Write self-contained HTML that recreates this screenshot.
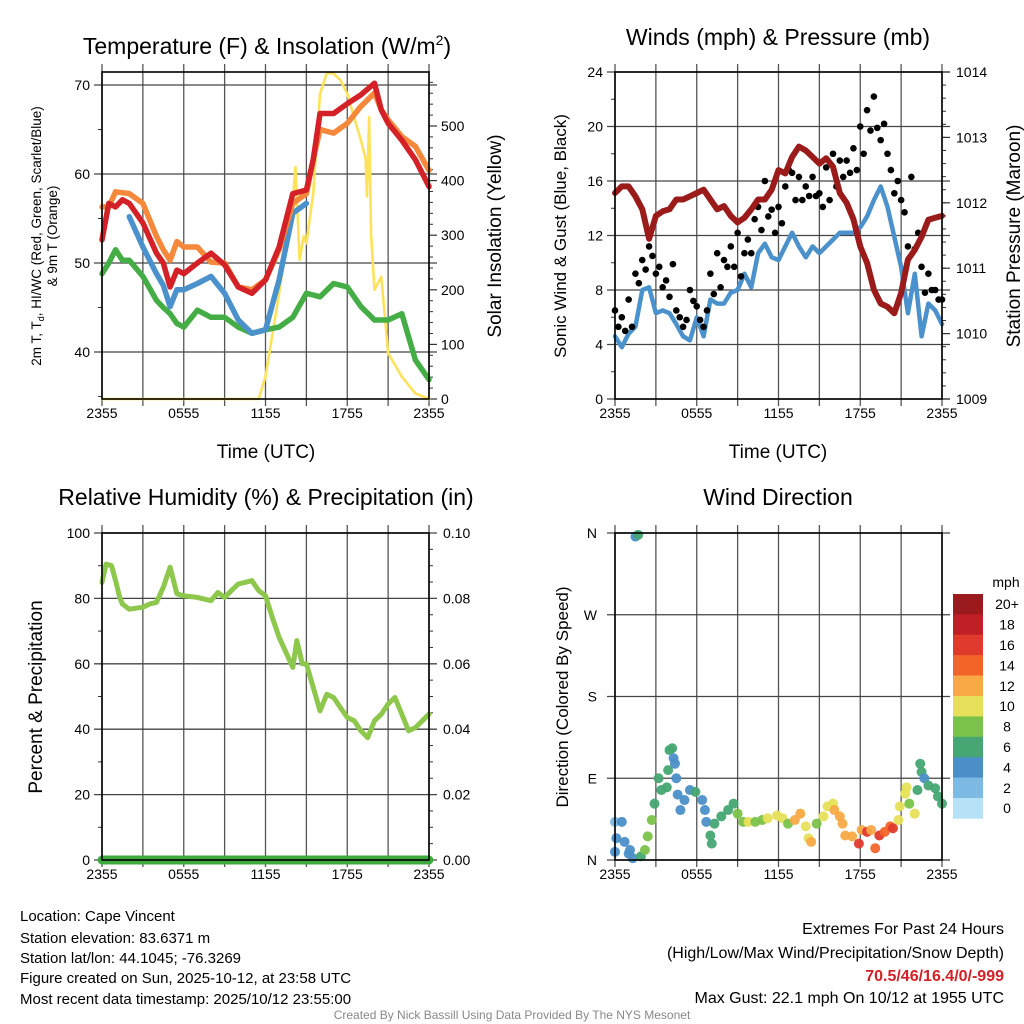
<!DOCTYPE html>
<html><head><meta charset="utf-8">
<style>
body{margin:0;background:#fff;}
svg{display:block;font-family:"Liberation Sans",Arial,sans-serif;}
</style></head>
<body>
<svg id="chart" width="1024" height="1024" viewBox="0 0 1024 1024" xmlns="http://www.w3.org/2000/svg">
<rect width="1024" height="1024" fill="#fff"/>
<g id="p1"></g>
<g id="p2"></g>
<g id="p3"></g>
<g id="p4"></g>
<g id="cb"></g>

<text x="267" y="54" font-size="23" text-anchor="middle">Temperature (F) &amp; Insolation (W/m<tspan dy="-9" font-size="14">2</tspan><tspan dy="9">)</tspan></text>
<text x="778" y="45" font-size="23" text-anchor="middle">Winds (mph) &amp; Pressure (mb)</text>
<text x="266" y="505" font-size="23" text-anchor="middle">Relative Humidity (%) &amp; Precipitation (in)</text>
<text x="778" y="505" font-size="23" text-anchor="middle">Wind Direction</text>

<text x="266" y="458" font-size="19" text-anchor="middle">Time (UTC)</text>
<text x="778" y="458" font-size="19" text-anchor="middle">Time (UTC)</text>

<text transform="translate(41,236) rotate(-90)" font-size="13.5" text-anchor="middle">2m T, T<tspan font-size="9" dy="3">d</tspan><tspan dy="-3">, HI/WC (Red, Green, Scarlet/Blue)</tspan></text>
<text transform="translate(57,236) rotate(-90)" font-size="13.5" text-anchor="middle">&amp; 9m T (Orange)</text>
<text transform="translate(501,236) rotate(-90)" font-size="19" text-anchor="middle">Solar Insolation (Yellow)</text>
<text transform="translate(566,236) rotate(-90)" font-size="17" text-anchor="middle">Sonic Wind &amp; Gust (Blue, Black)</text>
<text transform="translate(1020,236) rotate(-90)" font-size="19" text-anchor="middle">Station Pressure (Maroon)</text>
<text transform="translate(42,697) rotate(-90)" font-size="19" text-anchor="middle">Percent &amp; Precipitation</text>
<text transform="translate(568,697) rotate(-90)" font-size="17" text-anchor="middle">Direction (Colored By Speed)</text>

<g font-size="15">
<text x="20" y="921">Location: Cape Vincent</text>
<text x="20" y="943">Station elevation: 83.6371 m</text>
<text x="20" y="963">Station lat/lon: 44.1045; -76.3269</text>
<text x="20" y="983">Figure created on Sun, 2025-10-12, at 23:58 UTC</text>
<text x="20" y="1004">Most recent data timestamp: 2025/10/12 23:55:00</text>
</g>
<g font-size="16" text-anchor="end">
<text x="1004" y="934">Extremes For Past 24 Hours</text>
<text x="1004" y="958">(High/Low/Max Wind/Precipitation/Snow Depth)</text>
<text x="1004" y="981" fill="#d42027" font-weight="bold">70.5/46/16.4/0/-999</text>
<text x="1004" y="1003">Max Gust: 22.1 mph On 10/12 at 1955 UTC</text>
</g>
<text x="512" y="1019" font-size="12" fill="#888" text-anchor="middle">Created By Nick Bassill Using Data Provided By The NYS Mesonet</text>
</svg>
<script>
// ---- Temperature panel data ----
const tempHours = [0,0.5,1,1.5,2,3,4,4.5,5,5.5,6,7,8,9,10,11,12,13,14,15,15.5,16,17,18,19,20,20.5,21,22,23,24];
const tempRed = [52.6,56.7,56.3,57.1,56.7,54.5,51.1,50,47.3,49.2,48.8,50,51.1,49.8,47.3,46.6,48.1,51.8,57.8,58.2,61.6,66.8,66.8,67.9,68.9,70.2,67.2,65.7,63.8,61.6,58.6];
const temp9m = [56.3,56.3,58,57.9,57.8,56.7,53,51.5,50.3,52.4,51.8,51.8,50.1,50,47.3,47,48.1,51.5,56.7,57.8,61.6,65,64.6,65.7,67.6,69.1,67.2,66.1,64.2,63.1,60.4];
const tempHIWC = [null,null,null,null,55.2,51.8,48.8,47.5,45.1,47,47,47.7,48.5,46.6,43.6,42.1,42.5,48.1,55.6,56.7,null,null,null,null,null,null,null,null,null,null,null];
const tempDew = [48.8,50,51.5,50.3,50.3,48.5,45.8,45,44.3,43.2,42.8,44.7,43.9,43.9,42.8,42.1,42.5,42.8,43.9,46.6,46.4,46.2,47.7,47.3,45.1,43.6,43.6,43.6,44.3,39.1,36.9];
const solarHours = [0,11.5,12,13,14,14.2,14.5,14.8,15,15.5,16,16.5,17,17.5,18,18.5,19,19.35,19.45,19.6,19.75,20,20.5,21,22,23,24];
const solarVals = [0,0,41,193,364,425,255,298,285,376,559,597,596,584,559,516,474,440,371,516,300,200,224,84,41,10,0];
const tempTicks = [40,50,60,70];
const solarTicks = [0,100,200,300,400,500];
const timeLabels = ["2355","0555","1155","1755","2355"];
// ---- Winds panel data ----
const windVals = [4.6,3.8,4.8,5.3,8,8.2,6.3,6.5,6.3,5.5,4.6,4.3,6,4.6,7.3,7,7,7.8,8,9.2,8.2,10.7,11.4,10.4,10.2,11.2,12.2,11.2,10.4,11.2,10.7,11.2,11.7,12.2,12.2,12.2,12.6,13.4,14.6,15.6,14.1,11.9,9.7,6.3,9.2,4.6,7,6.5,5.5];
const gustVals = [6.5,5.3,6,5,7.3,5.3,9.2,8.5,10.2,9.5,11.2,10.5,9.2,9.7,8.2,8.7,7.5,9.9,6.5,6,5.3,5.8,8,7.2,6.8,5.8,5.3,6.5,9.2,7.7,10.7,8.2,10.2,9.7,11.2,9.7,12.2,9,10.7,11.7,10.7,13.2,14.1,12.4,16,13.4,13.9,12.2,14.1,12.9,15.6,16.8,16.6,14.6,16.3,14.6,15.6,14.9,16.3,14.9,15.1,14.1,17,14.6,18,15.6,17.5,16.3,17.5,16.6,18.4,16.8,20,18,21.2,19.7,22.2,19.9,19,20.2,18,16.8,15.1,16,14.6,13.7,11.2,16.3,11,12.2,9.7,7.8,9.2,8,8,7.3,7.3];
const pressVals = [1012.15,1012.25,1012.25,1012.1,1011.9,1011.45,1011.8,1011.87,1011.9,1012.05,1012.05,1012.1,1012.15,1012.2,1012.05,1011.9,1011.95,1011.8,1011.7,1011.77,1011.9,1012.05,1012.05,1012.2,1012.5,1012.45,1012.7,1012.86,1012.8,1012.7,1012.6,1012.68,1012.55,1012.15,1012,1011.75,1011.33,1011.08,1010.67,1010.46,1010.41,1010.31,1010.62,1011.13,1011.28,1011.48,1011.74,1011.77,1011.8];
const windTicks = [0,4,8,12,16,20,24];
const pressTicks = [1009,1010,1011,1012,1013,1014];
// ---- Humidity panel data ----
const rhHours = [0,0.3,0.7,1,1.3,1.5,2,2.5,3,3.5,4,4.5,5,5.5,6,7,8,8.5,9,9.5,10,11,11.5,12,12.5,13,14,14.3,14.7,15,15.5,16,16.5,17,17.5,18,18.5,19,19.5,20,20.5,21,21.5,22,22.5,23,24];
const rhVals = [84.9,90.5,90,85.4,80.3,78.3,76.7,77,77.3,78.3,78.8,83.4,89.5,81.4,80.8,80.3,79.3,81.8,80.3,82.4,84.4,85.4,82.4,80.8,74.2,68.1,58.9,67.1,60,60,52.8,45.6,50.7,49.7,46.6,43.6,42.6,39.5,37.4,42.6,44.6,47.7,49.7,44.6,39.5,40.5,44.6];
const precipHours = [0,24];
const precipVals = [0,0];
const rhTicks = [0,20,40,60,80,100];
const precipTicks = ["0.00","0.02","0.04","0.06","0.08","0.10"];
// ---- Wind direction data ----
const dirHours = [0,0,0.5,0.1,0.7,1,1.1,1.3,1.5,1.7,1.9,2.2,2.4,2.7,2.9,3.2,3.4,3.8,3.9,4,4.2,4.3,4.4,4.5,4.6,4.8,5.1,5.5,5.9,6.4,6.6,6.7,7,7.1,7.3,7.8,8.3,8.7,9,9.4,9.8,10.3,10.8,11.2,11.9,12.3,12.7,13.2,13.6,14,14.2,14.4,14.8,15.3,15.6,16,16.1,16.5,16.7,16.9,17.4,17.9,18.1,18.5,18.8,19.1,19.4,19.8,20.2,20.4,20.8,20.9,21.3,21.4,21.6,22,22.2,22.4,22.5,22.7,23,23.5,23.7,24];
const dirDeg = [9,42,42,24,20,7,11,2,356,358,4,11,26,44,62,90,77,80,99,121,123,112,106,90,72,55,66,77,75,66,55,42,27,18,40,48,55,62,51,42,42,42,44,46,49,46,40,44,51,37,24,20,40,48,59,62,55,48,40,27,26,18,33,31,33,13,27,31,37,35,44,59,73,80,62,51,77,106,97,90,82,79,70,62];
const dirSpd = [4,2,4,4,4,4,4,4,4,6,6,8,8,8,6,6,6,6,6,6,6,4,4,4,4,4,4,4,6,4,4,4,6,6,6,6,6,6,8,8,10,8,8,10,10,10,8,12,12,10,10,12,8,10,10,10,12,12,12,12,12,16,12,16,12,14,16,14,14,16,10,10,10,10,8,10,6,6,6,4,6,6,6,6];
const dirTicks = ["N","E","S","W","N"];
const speedLabels = ["20+","18","16","14","12","10","8","6","4","2","0"];
const speedColors = ["#9b1a1e","#c11f26","#e03a2c","#f2652a","#f8a945","#e7e05a","#7bc24a","#47a774","#4b8fc8","#7cb9e3","#b5e2f6"];

const NS='http://www.w3.org/2000/svg';
function mk(parent,tag,attrs){const e=document.createElementNS(NS,tag);for(const k in attrs)e.setAttribute(k,attrs[k]);parent.appendChild(e);return e;}
function xs(L,R){return h=>L+(R-L)*h/24;}
function lin(d0,d1,p0,p1){return v=>p0+(p1-p0)*(v-d0)/(d1-d0);}

function frame(g,L,R,T,B,name){
  for(let i=0;i<=8;i++){const x=L+(R-L)*i/8;
    const l=mk(g,'line',{x1:x,y1:T-8,x2:x,y2:B+7,stroke:'#555','stroke-width':1.3});
    
    }
}
function hgrid(g,L,R,y,name){const l=mk(g,'line',{x1:L-8,y1:y,x2:R+8,y2:y,stroke:'#444','stroke-width':1.3});
  
  }
function minor(g,x,y,dir){const l=mk(g,'line',{x1:x,y1:y,x2:x+dir*4,y2:y,stroke:'#333','stroke-width':1});
  
  }
function border(g,L,R,T,B,name){const r=mk(g,'rect',{x:L,y:T,width:R-L,height:B-T,fill:'none',stroke:'#000','stroke-width':1.6});
  
  }
function txt(g,x,y,s,anchor,size,name){const t=mk(g,'text',{x:x,y:y,'font-size':size,'text-anchor':anchor});t.textContent=s;
  
  return t;}
function xlabels(g,L,R,y){timeLabels.forEach((s,i)=>{txt(g,L+(R-L)*i/4,y,s,'middle',14,'x-tick-label');});}
function pathFrom(hours,vals,X,Y){let d='',pen=false;hours.forEach((h,i)=>{const v=vals[i];if(v===null){pen=false;return;}d+=(pen?'L':'M')+X(h).toFixed(1)+','+Y(v).toFixed(1);pen=true;});return d;}
function series(g,hours,vals,X,Y,color,w,name){const p=mk(g,'path',{d:pathFrom(hours,vals,X,Y),fill:'none',stroke:color,'stroke-width':w,'stroke-linejoin':'round','stroke-linecap':'round'});
  
  return p;}

// ---------- Panel 1 ----------
(function(){
  const g=document.getElementById('p1');const L=102,R=429,T=72,B=399;
  const X=xs(L,R), Y=lin(40,70,352,85), S=lin(0,500,399,126);
  frame(g,L,R,T,B,'temp');
  tempTicks.forEach(v=>{hgrid(g,L,R,Y(v),'temp');txt(g,L-12,Y(v)+5,String(v),'end',14,'temp-tick-label');});
  for(let v=35;v<=70;v+=5){if(v%10)minor(g,L,Y(v),-1);}
  solarTicks.forEach(v=>{const l=mk(g,'line',{x1:R,y1:S(v),x2:R+8,y2:S(v),stroke:'#333','stroke-width':1.2});
    
    
    txt(g,R+12,S(v)+5,String(v),'start',14,'solar-tick-label');});
  for(let v=20;v<600;v+=20){if(v%100&&S(v)>T)minor(g,R,S(v),1);}
  series(g,solarHours,solarVals,X,S,'#fde25a',2.6,'solar-insolation-line');
  series(g,tempHours,tempDew,X,Y,'#45ad45',5.5,'dewpoint-line');
  series(g,tempHours,tempHIWC,X,Y,'#4b92cc',5.5,'heat-index-windchill-line');
  series(g,tempHours,temp9m,X,Y,'#f5883a',5.5,'temp-9m-line');
  series(g,tempHours,tempRed,X,Y,'#d42027',5.5,'temp-2m-line');
  border(g,L,R,T,B,'temp');
  xlabels(g,L,R,418);
})();

// ---------- Panel 2 ----------
(function(){
  const g=document.getElementById('p2');const L=615,R=942,T=72,B=399;
  const X=xs(L,R), Y=lin(0,24,399,72), P=lin(1009,1014,399,72);
  frame(g,L,R,T,B,'wind');
  windTicks.forEach(v=>{hgrid(g,L,R,Y(v),'wind');txt(g,L-12,Y(v)+5,String(v),'end',14,'wind-tick-label');});
  for(let v=2;v<24;v+=4)minor(g,L,Y(v),-1);
  pressTicks.forEach(v=>{const l=mk(g,'line',{x1:R,y1:P(v),x2:R+8,y2:P(v),stroke:'#333','stroke-width':1.2});
    
    
    txt(g,R+14,P(v)+5,String(v),'start',14,'pressure-tick-label');});
  for(let v=1009.2;v<1014;v+=0.2){minor(g,R,P(v),1);}
  const wh=windVals.map((_,i)=>i*0.5);
  series(g,wh,windVals,X,Y,'#4b92cc',4.5,'sonic-wind-line');
  gustVals.forEach((v,i)=>{const c=mk(g,'circle',{cx:X(i*0.25),cy:Y(v),r:3.3,fill:'#000'});
    
    });
  series(g,wh,pressVals,X,P,'#9b1b1b',6,'pressure-line');
  border(g,L,R,T,B,'wind');
  xlabels(g,L,R,418);
})();

// ---------- Panel 3 ----------
(function(){
  const g=document.getElementById('p3');const L=102,R=429,T=533,B=860;
  const X=xs(L,R), Y=lin(0,100,860,533), Pr=lin(0,0.1,860,533);
  frame(g,L,R,T,B,'rh');
  rhTicks.forEach((v,i)=>{hgrid(g,L,R,Y(v),'rh');txt(g,L-12,Y(v)+5,String(v),'end',14,'rh-tick-label');
    txt(g,R+14,Y(v)+5,precipTicks[i],'start',14,'precip-tick-label');});
  for(let v=10;v<100;v+=20){minor(g,L,Y(v),-1);}
  for(let v=5;v<100;v+=5){if(v%20)minor(g,R,Y(v),1);}
  series(g,rhHours,rhVals,X,Y,'#8dc74c',5,'humidity-line');
  series(g,precipHours,precipVals,X,Pr,'#3fab3f',9,'precipitation-line');
  border(g,L,R,T,B,'rh');
  xlabels(g,L,R,879);
})();

// ---------- Panel 4 ----------
(function(){
  const g=document.getElementById('p4');const L=615,R=942,T=533,B=860;
  const X=xs(L,R), Y=lin(0,360,860,533);
  frame(g,L,R,T,B,'dir');
  dirTicks.forEach((s,i)=>{const y=Y(i*90);hgrid(g,L,R,y,'dir');txt(g,L-18,y+5,s,'end',14,'direction-tick-label');});
  function spdColor(s){let idx=Math.round(s/2);if(idx>10)idx=10;return speedColors[10-idx];}
  dirHours.forEach((h,i)=>{const c=mk(g,'circle',{cx:X(h),cy:Y(dirDeg[i]),r:5,fill:spdColor(dirSpd[i]),'fill-opacity':0.95});
    
    });
  border(g,L,R,T,B,'dir');
  xlabels(g,L,R,879);
})();

// ---------- Colorbar ----------
(function(){
  const g=document.getElementById('cb');const top=594,h=20.4;
  txt(g,1006,587,'mph','middle',14,'colorbar-unit');
  speedLabels.forEach((s,i)=>{const r=mk(g,'rect',{x:953,y:top+i*h,width:30,height:h+0.3,fill:speedColors[i]});
    
    
    txt(g,1007,top+i*h+h/2+5,s,'middle',14,'colorbar-label');});
})();
</script>
</body></html>
